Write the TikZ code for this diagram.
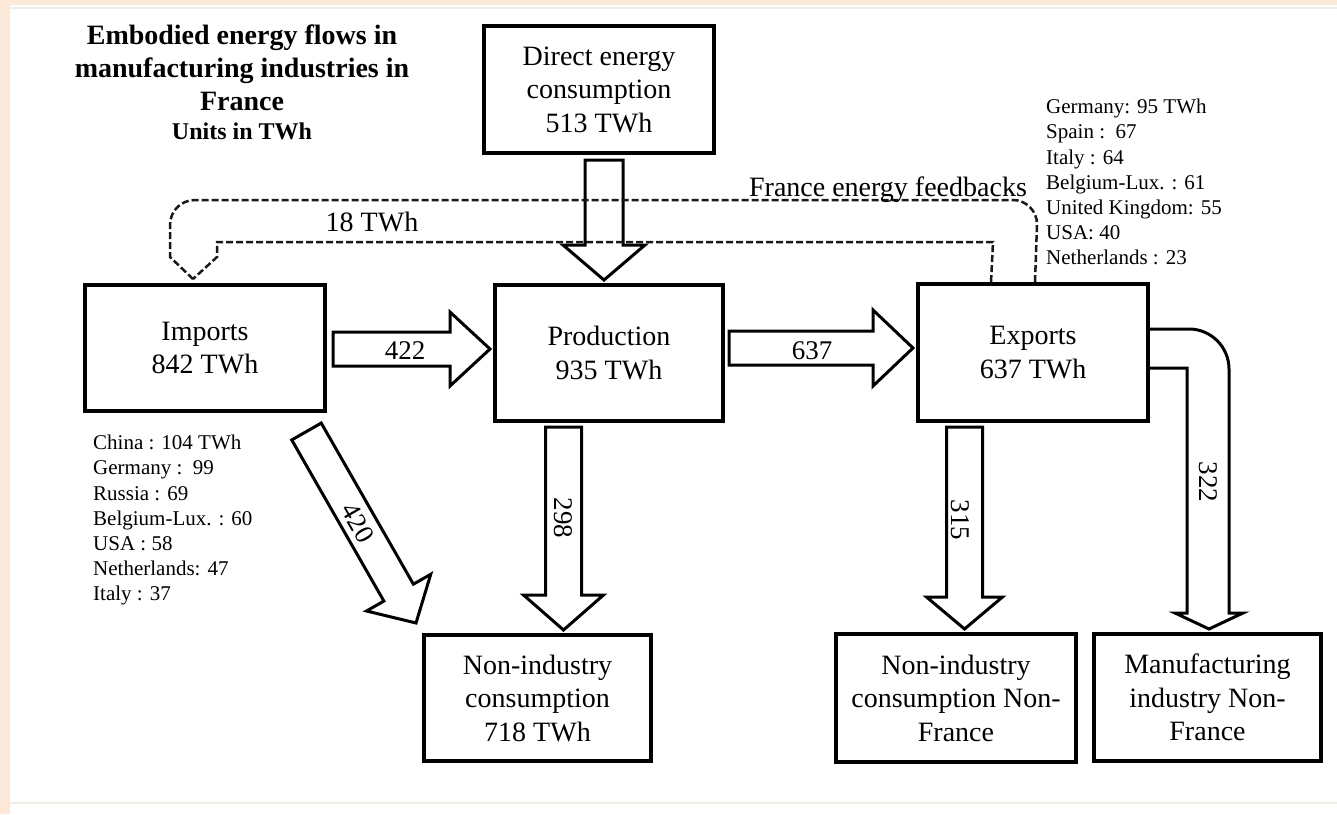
\documentclass[tikz,border=0pt]{standalone}
\usepackage{fontspec}
\setmainfont{Liberation Serif}
\usetikzlibrary{calc}
\definecolor{peach}{RGB}{253,233,218}
\definecolor{edgeline}{RGB}{241,237,231}
\newcommand\dgBoxFont{\fontsize{28}{33.5}\selectfont}
\newcommand\dgListFont{\fontsize{21}{25.2}\selectfont}
\newcommand\dgNumFont{\fontsize{27}{32}\selectfont}
\newcommand\dgTitleFont{\fontsize{28}{33}\selectfont\bfseries}
\newcommand\dgUnitsFont{\fontsize{24}{28}\selectfont\bfseries}
\tikzset{
  box/.style={draw=black, line width=4pt, inner sep=0pt, align=center, font=\dgBoxFont},
  barrow/.style={draw=black, line width=3pt, line join=miter},
  feedback/.style={draw=black!90, line width=2.5pt, dash pattern=on 7pt off 3pt},
  numlabel/.style={font=\dgNumFont, inner sep=0pt},
  listtext/.style={font=\dgListFont, align=left, inner sep=0pt, anchor=north west}
}
% #2 start, #3 tip, #4 shaft half width, #5 head half width, #6 head length
\newcommand\blockarrow[6][]{%
  \coordinate (bab) at ($(#3)!#6!(#2)$);
  \draw[barrow,#1] ($(#2)!#4!90:(#3)$) -- ($(bab)!#4!90:(#3)$) -- ($(bab)!#5!90:(#3)$) -- (#3)
     -- ($(bab)!#5!-90:(#3)$) -- ($(bab)!#4!-90:(#3)$) -- ($(#2)!#4!-90:(#3)$) -- cycle;
}
\begin{document}
\begin{tikzpicture}[x=1pt,y=-1pt]
\fill[white] (0,0) rectangle (1337,814);
\fill[peach] (0,0) rectangle (1337,5);
\fill[peach] (0,0) rectangle (10,814);
\fill[edgeline] (10,6.5) rectangle (1337,8.5);
\fill[edgeline] (10,802) rectangle (1337,804);
\useasboundingbox (0,0) rectangle (1337,814);

% title
\node[anchor=north, font=\dgTitleFont, align=center, inner sep=0pt] (title) at (242,25)
  {Embodied energy flows in\\manufacturing industries in\\France};
\node[anchor=base, font=\dgUnitsFont, inner sep=0pt] (units) at (242,139) {Units in TWh};

% boxes
\node[box, minimum width=230pt, minimum height=127pt] (direct) at (599,89.5) {Direct energy\\consumption\\513 TWh};
\node[box, minimum width=240pt, minimum height=126pt] (imports) at (205,348) {\raisebox{-3pt}{\shortstack{Imports\\[4pt]842 TWh}}};
\node[box, minimum width=228pt, minimum height=136pt] (prod) at (609,353) {Production\\935 TWh};
\node[box, minimum width=230pt, minimum height=137pt] (exports) at (1033,352.5) {Exports\\637 TWh};
\node[box, minimum width=227pt, minimum height=126pt] (nonind) at (537.5,698) {Non-industry\\consumption\\718 TWh};
\node[box, minimum width=240pt, minimum height=128pt] (nonindnf) at (956,698) {Non-industry\\consumption Non-\\France};
\node[box, minimum width=227pt, minimum height=127pt] (manuf) at (1207.5,697.5) {Manufacturing\\industry Non-\\France};

% country lists
\node[listtext] (implist) at (93,435) {China : 104 TWh\\Germany :\ \ 99\\Russia : 69\\Belgium-Lux. : 60\\USA : 58\\Netherlands: 47\\Italy : 37};
\node[listtext] (explist) at (1046,99) {Germany: 95 TWh\\Spain :\ \ 67\\Italy : 64\\Belgium-Lux. : 61\\United Kingdom: 55\\USA: 40\\Netherlands : 23};

% block arrows
\coordinate (s1) at ($(direct.south)+(5,5)$);
\coordinate (t1) at ($(s1 |- prod.north)+(0,-3)$);
\blockarrow{s1}{t1}{19pt}{41pt}{35pt}

\coordinate (s2) at ($(imports.east)+(6,1)$);
\coordinate (t2) at ($(s2 -| prod.west)+(-3,0)$);
\blockarrow{s2}{t2}{17pt}{37pt}{40pt}

\coordinate (s3) at ($(prod.east)+(4,-5)$);
\coordinate (t3) at ($(s3 -| exports.west)+(-3,0)$);
\blockarrow{s3}{t3}{17pt}{38pt}{40pt}

\coordinate (s4) at ($(prod.south)+(-45.5,4)$);
\coordinate (t4) at ($(s4 |- nonind.north)+(0,-3)$);
\blockarrow{s4}{t4}{18pt}{40pt}{35pt}

\coordinate (s5) at ($(imports.south)+(101.5,18.5)$);
\coordinate (t5) at ($(nonind.north west)+(-6,-10)$);
\blockarrow{s5}{t5}{17pt}{37pt}{35pt}

\coordinate (s6) at ($(exports.south)+(-68.5,4)$);
\coordinate (t6) at ($(s6 |- nonindnf.north)+(0,-3)$);
\blockarrow{s6}{t6}{18pt}{38pt}{32pt}

% bent arrow exports -> manufacturing
\coordinate (o1) at ($(exports.east)+(0,-23.5)$);
\coordinate (i1) at ($(exports.east)+(0,15.5)$);
\coordinate (t7) at ($(manuf.north)+(1.5,-3)$);
\draw[barrow] (o1) -- (1189,329) .. controls (1211,329) and (1229,347) .. (1229,369)
  -- (1229,613) -- (1243,613) -- (t7) -- (1175,613) -- (1187,613) -- (1187,368) -- (i1);

% arrow labels
\node[numlabel] (l422) at (405,351) {422};
\node[numlabel] (l637) at (812,351) {637};
\node[numlabel, rotate=-90] (l298) at (563,518) {298};
\node[numlabel, rotate=-60] (l420) at (358,523) {420};
\node[numlabel, rotate=-90] (l315) at (960,520) {315};
\node[numlabel, rotate=-90] (l322) at (1208,482) {322};

% feedback dashed arrow (exports -> imports)
\coordinate (fbtip) at ($(imports.north)+(-12,-4)$);
\coordinate (fbo) at ($(exports.north west)+(119,0)$);
\coordinate (fbi) at ($(exports.north west)+(75,0)$);
\draw[feedback] (fbo) -- (1037,224) .. controls (1037,211) and (1026,200) .. (1013,200)
  -- (195,200) .. controls (181,200) and (170,211) .. (170,225) -- (170,257) -- (fbtip);
\draw[feedback] (fbi) -- (993,242) -- (217,242) -- (217,257) -- (fbtip);
\node[numlabel, font=\dgBoxFont, anchor=base] (fbl) at (888,196) {France energy feedbacks};
\node[numlabel, font=\dgBoxFont, anchor=base] (l18) at (372,231) {18 TWh};
\end{tikzpicture}
\end{document}
